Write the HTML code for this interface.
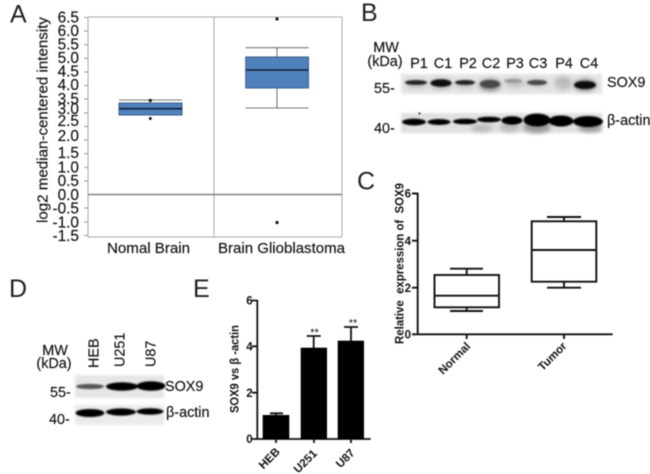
<!DOCTYPE html>
<html><head><meta charset="utf-8"><style>
html,body{margin:0;padding:0;background:#fff}
svg{display:block;filter:blur(.4px)}
text{font-family:"Liberation Sans",sans-serif;fill:#111}
.t{font-size:15.4px;text-anchor:end;stroke:#111;stroke-width:.15px}
.l{font-size:25px;fill:#222}
.m{font-size:14.4px;stroke:#111;stroke-width:.15px}
.b{font-weight:bold;font-size:11.5px}
</style></head><body>
<svg width="650" height="474" viewBox="0 0 650 474" xmlns="http://www.w3.org/2000/svg">
<defs>
<filter id="s" x="-30%" y="-80%" width="160%" height="260%"><feGaussianBlur stdDeviation=".8"/></filter>
<filter id="w" x="-30%" y="-80%" width="160%" height="260%"><feGaussianBlur stdDeviation="2"/></filter>
<filter id="e" x="-10%" y="-30%" width="120%" height="160%"><feGaussianBlur stdDeviation="1.2"/></filter>
</defs>
<rect width="650" height="474" fill="#fff"/>

<!-- Panel A -->
<text x="10" y="22.5" class="l">A</text>
<g stroke="#a8a8a8" stroke-width="1" fill="none">
<path d="M88 17H342M88 17V237M214 17V237M342 17V237M88 237H342"/>
</g>
<path d="M84 17.5h4M84 31h4M84 44.7h4M84 58.3h4M84 72h4M84 85.6h4M84 99h4M84 113h4M84 126.5h4M84 140h4M84 153.7h4M84 167.4h4M84 181h4M84 208h4M84 222h4M84 235.5h4" stroke="#999" stroke-width="1"/>
<path d="M88 194.5H342" stroke="#808080" stroke-width="1.6"/>
<text x="79" y="22.5" class="t">6.5</text><text x="79" y="36" class="t">6.0</text><text x="79" y="49.5" class="t">5.5</text>
<text x="79" y="63" class="t">5.0</text><text x="79" y="76.5" class="t">4.5</text><text x="79" y="90" class="t">4.0</text>
<text x="79" y="104" class="t">3.5</text><text x="79" y="114" class="t">3.0</text><text x="79" y="126" class="t">2.5</text>
<text x="79" y="141" class="t">2.0</text><text x="79" y="158" class="t">1.5</text><text x="79" y="172.5" class="t">1.0</text>
<text x="79" y="186" class="t">0.5</text><text x="79" y="200" class="t">0.0</text><text x="79" y="213.5" class="t">-0.5</text>
<text x="79" y="227.5" class="t">-1.0</text><text x="79" y="241" class="t">-1.5</text>
<text transform="translate(47.5,223) rotate(-90)" class="m" style="font-size:15px" textLength="206" lengthAdjust="spacingAndGlyphs">log2 median-centered intensity</text>
<text x="107" y="253" class="m" style="font-size:15px" textLength="83" lengthAdjust="spacingAndGlyphs">Nomal Brain</text>
<text x="218" y="253" class="m" style="font-size:15px" textLength="127" lengthAdjust="spacingAndGlyphs">Brain Glioblastoma</text>
<path d="M119 100H182" stroke="#777" stroke-width="1"/>
<rect x="119" y="103" width="63" height="12" fill="#4f81bd" stroke="#3d5f88" stroke-width="1"/>
<path d="M119 108.7H182" stroke="#10203a" stroke-width="1.6"/>
<circle cx="150.3" cy="100.5" r="1.6" fill="#111"/><circle cx="150.3" cy="118.5" r="1.5" fill="#111"/>
<path d="M245.7 47.7H308.5M245.7 108H308.5M277 47.7V57M277 88V108" stroke="#777" stroke-width="1.1" fill="none"/>
<rect x="245.7" y="57" width="62.8" height="31" fill="#4f81bd" stroke="#3d5f88" stroke-width="1"/>
<path d="M245.7 70H308.5" stroke="#10203a" stroke-width="1.6"/>
<circle cx="277" cy="19" r="1.6" fill="#111"/><circle cx="277" cy="222.5" r="1.6" fill="#111"/>

<!-- Panel B -->
<text x="361" y="21" class="l">B</text>
<text x="386" y="52" class="m" text-anchor="middle">MW</text>
<text x="385" y="66" class="m" text-anchor="middle">(kDa)</text>
<g text-anchor="middle">
<text x="419" y="68" class="m">P1</text><text x="443" y="68" class="m">C1</text><text x="468" y="68" class="m">P2</text><text x="491" y="68" class="m">C2</text>
<text x="515" y="68" class="m">P3</text><text x="538" y="68" class="m">C3</text><text x="564" y="68" class="m">P4</text><text x="589" y="68" class="m">C4</text>
</g>
<text x="374" y="93" class="m">55-</text>
<text x="374" y="133" class="m">40-</text>
<text x="607" y="87" class="m">SOX9</text>
<text x="607" y="125" class="m">β-actin</text>
<rect x="401" y="74" width="201" height="20" fill="#e4e4e4" filter="url(#e)"/>
<rect x="401" y="113" width="201" height="20" fill="#e0e0e0" filter="url(#e)"/>
<g filter="url(#w)" fill="#bbb">
<ellipse cx="416" cy="84" rx="11" ry="4" fill="#bbb"/>
<ellipse cx="441" cy="84" rx="11" ry="5" fill="#aaa"/>
<ellipse cx="465" cy="84" rx="10" ry="4" fill="#bbb"/>
<ellipse cx="490" cy="85" rx="11" ry="6" fill="#888"/>
<ellipse cx="515" cy="83" rx="10" ry="5" fill="#c4c4c4"/>
<ellipse cx="537" cy="83" rx="11" ry="4" fill="#bbb"/>
<ellipse cx="563" cy="83" rx="9" ry="7" fill="#c0c0c0"/>
<ellipse cx="585" cy="85" rx="11" ry="6" fill="#888"/>
<ellipse cx="482" cy="128" rx="11" ry="4" fill="#bbb"/>
<ellipse cx="510" cy="127" rx="10" ry="5" fill="#bbb"/>
<ellipse cx="537" cy="127" rx="14" ry="6" fill="#999"/>
<ellipse cx="590" cy="127" rx="12" ry="5" fill="#999"/>
</g>
<g filter="url(#s)" fill="#111">
<ellipse cx="416" cy="82.5" rx="11" ry="2.4" fill="#222"/>
<ellipse cx="441" cy="83" rx="10.5" ry="3.8" fill="#0a0a0a"/>
<ellipse cx="465" cy="82.5" rx="10" ry="2.4" fill="#222"/>
<ellipse cx="490" cy="84" rx="10" ry="4" fill="#4a4a4a"/>
<ellipse cx="513" cy="81" rx="9" ry="2" fill="#999"/>
<ellipse cx="537" cy="82.5" rx="10" ry="2.6" fill="#4a4a4a"/>
<ellipse cx="563" cy="81" rx="6" ry="1.5" fill="#b8b8b8"/>
<ellipse cx="585" cy="85" rx="11" ry="4" fill="#111"/>
<ellipse cx="414" cy="122" rx="12" ry="3.4" fill="#000"/>
<ellipse cx="439" cy="122" rx="11.5" ry="3" fill="#000"/>
<ellipse cx="465" cy="121.5" rx="12" ry="2.8" fill="#000"/>
<ellipse cx="489" cy="119.5" rx="12" ry="2.8" fill="#000"/>
<ellipse cx="512" cy="120.5" rx="10.5" ry="4.2" fill="#000"/>
<ellipse cx="537" cy="120" rx="13.5" ry="6.5" fill="#000"/>
<ellipse cx="561" cy="121" rx="12.5" ry="5.5" fill="#000"/>
<ellipse cx="588" cy="121.5" rx="15" ry="5.5" fill="#000"/>
</g>
<circle cx="419.5" cy="113.5" r="1" fill="#222"/>

<!-- Panel C -->
<text x="357" y="189.5" class="l">C</text>
<g stroke="#111" fill="none" stroke-width="1.9">
<path d="M417.7 193V334.3H612.7M412 193.5h6M412 240.7h6M412 287.7h6M412 334.3h6M466.7 334v5M564 334v5"/>
<path d="M450 268.7H483M466.7 268.7V275M450 311H483M466.7 307V311" />
<rect x="434.5" y="275" width="64.5" height="32.3"/>
<path d="M434.5 295.7H499" />
<path d="M547 217H581M564 217V221.3M547 287.7H581M564 281.7V287.7"/>
<rect x="531.7" y="221.3" width="64.6" height="60.4"/>
<path d="M531.7 250H596.3"/>
</g>
<text x="411" y="197.5" class="b" text-anchor="end">6</text><text x="411" y="245" class="b" text-anchor="end">4</text><text x="411" y="292" class="b" text-anchor="end">2</text><text x="411" y="338.5" class="b" text-anchor="end">0</text>
<text transform="translate(403.5,344) rotate(-90)" class="b" style="font-size:12px" textLength="161" lengthAdjust="spacingAndGlyphs" xml:space="preserve">Relative  expression of  SOX9</text>
<text transform="translate(457,361) rotate(-45)" class="b" text-anchor="middle">Normal</text>
<text transform="translate(555,359) rotate(-45)" class="b" text-anchor="middle">Tumor</text>

<!-- Panel D -->
<text x="9" y="297" class="l">D</text>
<text x="55" y="355" class="m" text-anchor="middle">MW</text>
<text x="54" y="368" class="m" text-anchor="middle">(kDa)</text>
<text transform="translate(98.5,368) rotate(-90)" class="m">HEB</text>
<text transform="translate(124.5,367) rotate(-90)" class="m">U251</text>
<text transform="translate(155.5,367) rotate(-90)" class="m">U87</text>
<text x="50" y="397" class="m">55-</text>
<text x="49" y="424" class="m">40-</text>
<text x="165" y="391" class="m">SOX9</text>
<text x="166" y="417" class="m">β-actin</text>
<rect x="75" y="375" width="89" height="23" fill="#e6e6e6" filter="url(#e)"/>
<rect x="75" y="405" width="89" height="20" fill="#ebebeb" filter="url(#e)"/>
<g filter="url(#s)" fill="#000">
<ellipse cx="90" cy="386.5" rx="14" ry="2.6" fill="#555"/>
<ellipse cx="122" cy="386.5" rx="16" ry="4.2"/>
<ellipse cx="151" cy="386" rx="14.5" ry="4.8"/>
<ellipse cx="90" cy="413" rx="14.5" ry="4"/>
<ellipse cx="121" cy="412" rx="15" ry="3.6"/>
<ellipse cx="150" cy="411.5" rx="13.5" ry="3.2"/>
</g>

<!-- Panel E -->
<text x="193" y="297" class="l">E</text>
<g stroke="#111" fill="none" stroke-width="1.8">
<path d="M257.3 300V439H370.7M252 300.5h5.5M252 346.3h5.5M252 392.7h5.5M252 439h5.5M276 439v4M314 439v4M351 439v4"/>
<path d="M270 413.3H283M276 413.3V415M306.7 336H320.7M313.7 336V348M344 327H358M351 327V341"/>
</g>
<rect x="262.7" y="415" width="26.6" height="24" fill="#000"/>
<rect x="300.7" y="347.7" width="26.3" height="91.3" fill="#000"/>
<rect x="337.7" y="340.7" width="26.3" height="98.3" fill="#000"/>
<text x="249.5" y="304.5" class="b" text-anchor="middle">6</text><text x="249.5" y="350.5" class="b" text-anchor="middle">4</text>
<text x="249.5" y="397" class="b" text-anchor="middle">2</text><text x="249.5" y="443" class="b" text-anchor="middle">0</text>
<text x="314.5" y="336" font-size="11" text-anchor="middle">**</text>
<text x="353" y="326.5" font-size="11" text-anchor="middle">**</text>
<text transform="translate(238.5,413) rotate(-90)" class="b" style="font-size:12px" textLength="88" lengthAdjust="spacingAndGlyphs">SOX9 vs β -actin</text>
<text transform="translate(272,461) rotate(-45)" class="b" text-anchor="middle">HEB</text>
<text transform="translate(308,464) rotate(-45)" class="b" text-anchor="middle">U251</text>
<text transform="translate(348,461) rotate(-45)" class="b" text-anchor="middle">U87</text>
</svg>
</body></html>
